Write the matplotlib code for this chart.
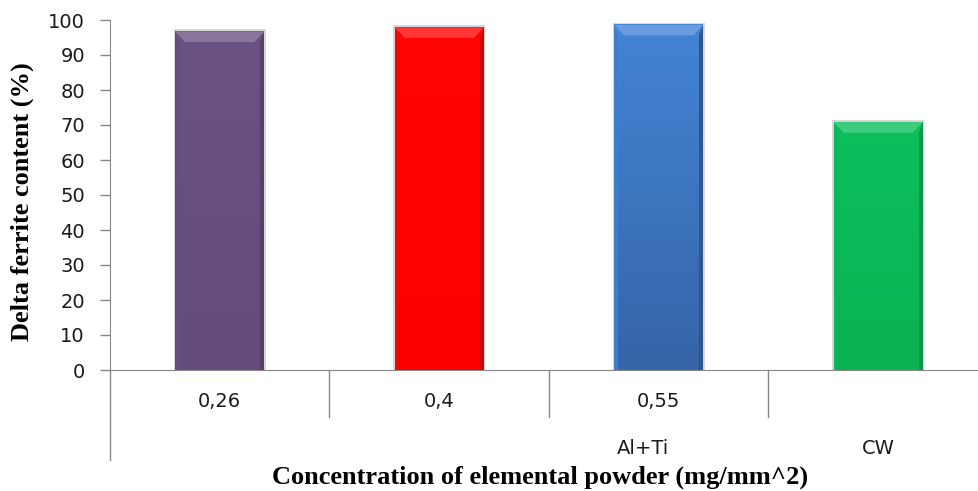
import numpy as np
import matplotlib.pyplot as plt
from matplotlib.colors import to_rgb, LinearSegmentedColormap
from matplotlib.patches import Polygon, Rectangle

# delta ferrite per sample
labels = ['0,26', '0,4', '0,55', '']
groups = ['Al+Ti', 'CW']
values = [96.7, 97.9, 98.6, 70.8]
top_colors = ['#6A5284', '#FF0505', '#4384D4', '#0DBE5C']
bottom_colors = ['#634B7C', '#FA0000', '#3665A8', '#0AB352']

fig = plt.figure(figsize=(9.79, 4.91), dpi=100)
fig.set_facecolor('w')
ax = fig.add_axes([110 / 979, 121 / 491, 878 / 979, 350 / 491])

x = np.arange(len(values))
w = 0.405
bars = ax.bar(x, values, width=w, color=top_colors, zorder=2)

def lighten(c, f):
    r = np.array(to_rgb(c))
    return tuple(r + (1 - r) * f)

def darken(c, f):
    return tuple(np.array(to_rgb(c)) * (1 - f))

# bevelled look for each bar
bx = 0.045   # bevel width (category units)
by = 3.0     # bevel height (data units)
for b, v, ct, cb in zip(bars, values, top_colors, bottom_colors):
    x0, x1 = b.get_x(), b.get_x() + b.get_width()
    b.set_visible(False)
    # soft shadow
    ax.add_patch(Rectangle((x0 - 0.008, 0), x1 - x0 + 0.016, v + 0.6,
                           color='#b0b0b0', alpha=0.5, zorder=1, lw=0))
    cmap = LinearSegmentedColormap.from_list('g', [cb, ct])
    ax.imshow(np.linspace(0, 1, 50).reshape(-1, 1), cmap=cmap, origin='lower',
              extent=[x0, x1, 0, v], aspect='auto', zorder=2)
    # top bevel
    ax.add_patch(Polygon([[x0, v], [x1, v], [x1 - bx, v - by], [x0 + bx, v - by]],
                         closed=True, color=lighten(ct, 0.2), lw=0, zorder=3))
    # side edges
    ax.add_patch(Polygon([[x1, v], [x1, 0], [x1 - bx * 0.4, 0], [x1 - bx * 0.4, v - by]],
                         closed=True, color=darken(cb, 0.15), lw=0, zorder=3))
    ax.add_patch(Polygon([[x0, v], [x0, 0], [x0 + bx * 0.4, 0], [x0 + bx * 0.4, v - by]],
                         closed=True, color=darken(ct, 0.05), lw=0, zorder=3))

ax.set_xlim(-0.5, len(values) - 0.5)
ax.set_ylim(0, 100)
ax.set_yticks(np.arange(0, 101, 10))

grey = '#878787'
for s in ['top', 'right']:
    ax.spines[s].set_visible(False)
ax.spines['left'].set_color(grey)
ax.spines['bottom'].set_color(grey)
ax.tick_params(axis='y', direction='out', length=7, color=grey, width=1,
               labelsize=14, pad=11, labelcolor='#1a1a1a')
ax.tick_params(axis='x', length=0, labelbottom=False)
for t in ax.get_yticklabels():
    t.set_fontfamily('DejaVu Sans')

# category axis: extended y-axis line and separators
ax.plot([-0.5, -0.5], [0, -0.257], transform=ax.get_xaxis_transform(),
        color=grey, lw=1, clip_on=False)
for xs in x[:-1] + 0.5:
    ax.plot([xs, xs], [0, -0.134], transform=ax.get_xaxis_transform(),
            color=grey, lw=1, clip_on=False)
for xi, lab in zip(x, labels):
    ax.text(xi, -0.09, lab, transform=ax.get_xaxis_transform(), ha='center',
            va='center', fontsize=14, family='DejaVu Sans', color='#1a1a1a')
ax.text(1.93, -0.225, groups[0], transform=ax.get_xaxis_transform(), ha='center',
        va='center', fontsize=14, family='DejaVu Sans', color='#1a1a1a')
ax.text(3.0, -0.225, groups[1], transform=ax.get_xaxis_transform(), ha='center',
        va='center', fontsize=14, family='DejaVu Sans', color='#1a1a1a')

fig.text(540 / 979, 1 - 477 / 491, 'Concentration of elemental powder (mg/mm^2)',
         ha='center', va='center', fontsize=19, fontweight='bold',
         family='Liberation Serif')
fig.text(22 / 979, 1 - 202 / 491, 'Delta ferrite content (%)', rotation=90,
         ha='center', va='center', fontsize=19, fontweight='bold',
         family='Liberation Serif')

fig.savefig('out.png', dpi=100)
